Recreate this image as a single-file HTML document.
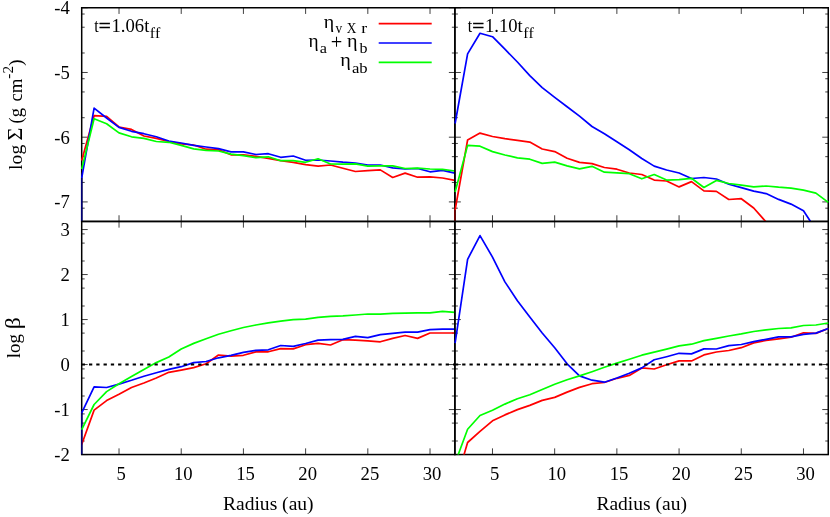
<!DOCTYPE html>
<html><head><meta charset="utf-8"><title>plot</title>
<style>
html,body{margin:0;padding:0;background:#fff;}
body{width:830px;height:517px;overflow:hidden;}
svg{display:block;will-change:transform;}
text{font-family:"Liberation Serif",serif;font-size:18.67px;fill:#000;font-kerning:none;font-variant-ligatures:none;}
.s{font-size:14.9px;}
.c{fill:none;stroke-width:1.7;stroke-linejoin:round;stroke-linecap:butt;}
.r{stroke:#ff0000;}.b{stroke:#0000ff;}.g{stroke:#00ff00;}
.ax{fill:none;stroke:#000;stroke-width:1.5;}
.tk{fill:none;stroke:#000;stroke-width:0.75;}
</style></head><body>
<svg width="830" height="517" viewBox="0 0 830 517">
<rect x="0" y="0" width="830" height="517" fill="#fff"/>
<defs>
<clipPath id="cTL"><rect x="80.7" y="7.8" width="375.2" height="213.7"/></clipPath>
<clipPath id="cTR"><rect x="453.9" y="7.8" width="375.4" height="213.7"/></clipPath>
<clipPath id="cBL"><rect x="80.7" y="221.4" width="375.2" height="233.1"/></clipPath>
<clipPath id="cBR"><rect x="453.9" y="221.4" width="375.4" height="233.1"/></clipPath>
</defs>
<!-- top-left -->
<rect class="ax" x="81.70" y="7.75" width="373.17" height="213.70"/>
<path class="tk" d="M119.02,221.45 v-6.2 M119.02,7.75 v6.2 M181.22,221.45 v-6.2 M181.22,7.75 v6.2 M243.42,221.45 v-6.2 M243.42,7.75 v6.2 M305.62,221.45 v-6.2 M305.62,7.75 v6.2 M367.82,221.45 v-6.2 M367.82,7.75 v6.2 M430.02,221.45 v-6.2 M430.02,7.75 v6.2 M81.70,7.75 h6 M454.87,7.75 h-6 M81.70,72.47 h6 M454.87,72.47 h-6 M81.70,137.19 h6 M454.87,137.19 h-6 M81.70,201.91 h6 M454.87,201.91 h-6 M81.70,52.99 h3 M454.87,52.99 h-3 M81.70,27.23 h3 M454.87,27.23 h-3 M81.70,14.02 h3 M454.87,14.02 h-3 M81.70,117.71 h3 M454.87,117.71 h-3 M81.70,91.95 h3 M454.87,91.95 h-3 M81.70,78.74 h3 M454.87,78.74 h-3 M81.70,182.43 h3 M454.87,182.43 h-3 M81.70,156.67 h3 M454.87,156.67 h-3 M81.70,143.46 h3 M454.87,143.46 h-3 M81.70,208.18 h3 M454.87,208.18 h-3"/>
<g clip-path="url(#cTL)">
<path class="c r" d="M81.7,160.5 L94.1,115.7 L106.6,116.4 L119.0,127.0 L131.5,129.4 L143.9,136.0 L156.3,138.4 L168.8,141.5 L181.2,143.9 L193.7,145.0 L206.1,149.2 L218.5,149.8 L231.0,154.8 L243.4,154.8 L255.9,156.3 L268.3,158.4 L280.7,160.7 L293.2,162.3 L305.6,164.6 L318.1,166.2 L330.5,165.0 L342.9,168.2 L355.4,171.5 L367.8,170.7 L380.3,169.9 L392.7,177.5 L405.1,173.1 L417.6,177.2 L430.0,176.8 L442.5,178.0 L454.9,180.4"/>
<path class="c b" d="M81.7,178.0 L94.1,108.1 L106.6,118.0 L119.0,127.4 L131.5,131.3 L143.9,133.7 L156.3,136.8 L168.8,141.0 L181.2,143.0 L193.7,145.4 L206.1,147.0 L218.5,148.7 L231.0,151.8 L243.4,151.8 L255.9,154.5 L268.3,153.7 L280.7,157.3 L293.2,156.0 L305.6,160.3 L318.1,160.0 L330.5,161.0 L342.9,162.2 L355.4,163.0 L367.8,165.0 L380.3,165.0 L392.7,167.9 L405.1,169.0 L417.6,168.5 L430.0,171.8 L442.5,170.3 L454.9,173.1"/>
<path d="M81.70,178.0 V221.4" stroke="#000078" stroke-width="1.7" fill="none"/>
<path class="c g" d="M81.7,169.0 L94.1,118.8 L106.6,123.8 L119.0,132.9 L131.5,136.8 L143.9,138.4 L156.3,141.5 L168.8,142.3 L181.2,145.4 L193.7,148.9 L206.1,150.3 L218.5,151.0 L231.0,154.1 L243.4,155.7 L255.9,157.6 L268.3,156.8 L280.7,160.7 L293.2,160.7 L305.6,162.3 L318.1,158.8 L330.5,164.0 L342.9,164.2 L355.4,163.8 L367.8,166.1 L380.3,165.8 L392.7,165.8 L405.1,168.5 L417.6,168.2 L430.0,169.0 L442.5,169.4 L454.9,171.0"/>
</g>
<!-- top-right -->
<rect class="ax" x="454.87" y="7.75" width="373.38" height="213.70"/>
<path class="tk" d="M492.47,221.45 v-6.2 M492.47,7.75 v6.2 M554.67,221.45 v-6.2 M554.67,7.75 v6.2 M616.87,221.45 v-6.2 M616.87,7.75 v6.2 M679.07,221.45 v-6.2 M679.07,7.75 v6.2 M741.27,221.45 v-6.2 M741.27,7.75 v6.2 M803.47,221.45 v-6.2 M803.47,7.75 v6.2 M454.87,7.75 h6 M828.25,7.75 h-6 M454.87,72.47 h6 M828.25,72.47 h-6 M454.87,137.19 h6 M828.25,137.19 h-6 M454.87,201.91 h6 M828.25,201.91 h-6 M454.87,52.99 h3 M828.25,52.99 h-3 M454.87,27.23 h3 M828.25,27.23 h-3 M454.87,14.02 h3 M828.25,14.02 h-3 M454.87,117.71 h3 M828.25,117.71 h-3 M454.87,91.95 h3 M828.25,91.95 h-3 M454.87,78.74 h3 M828.25,78.74 h-3 M454.87,182.43 h3 M828.25,182.43 h-3 M454.87,156.67 h3 M828.25,156.67 h-3 M454.87,143.46 h3 M828.25,143.46 h-3 M454.87,208.18 h3 M828.25,208.18 h-3"/>
<g clip-path="url(#cTR)">
<path class="c r" d="M455.1,210.0 L467.6,140.0 L480.0,133.1 L492.5,136.5 L504.9,138.7 L517.4,140.4 L529.8,142.1 L542.2,149.0 L554.7,151.6 L567.1,158.3 L579.5,162.4 L592.0,163.6 L604.4,167.5 L616.9,169.2 L629.3,173.0 L641.8,174.5 L654.2,180.1 L666.6,181.0 L679.1,186.9 L691.5,181.6 L703.9,190.9 L716.4,191.4 L728.8,199.5 L741.3,198.7 L753.7,208.0 L766.1,222.0 L778.6,235.0 L791.0,245.0 L803.5,255.0 L815.9,265.0 L828.3,275.0"/>
<path d="M454.87,210.0 V221.4" stroke="#780000" stroke-width="1.7" fill="none"/>
<path class="c b" d="M455.1,123.5 L467.6,53.9 L480.0,33.3 L492.5,36.7 L504.9,49.2 L517.4,62.0 L529.8,75.6 L542.2,87.6 L554.7,97.4 L567.1,106.7 L579.5,116.2 L592.0,126.5 L604.4,133.7 L616.9,141.8 L629.3,149.8 L641.8,158.5 L654.2,166.1 L666.6,170.0 L679.1,173.0 L691.5,178.5 L703.9,177.5 L716.4,179.0 L728.8,184.2 L741.3,187.6 L753.7,191.1 L766.1,193.6 L778.6,199.4 L791.0,204.1 L803.5,210.8 L815.9,229.7 L828.3,245.0"/>
<path class="c g" d="M455.1,192.0 L467.6,145.4 L480.0,146.2 L492.5,151.6 L504.9,155.0 L517.4,157.8 L529.8,159.2 L542.2,163.4 L554.7,162.1 L567.1,165.9 L579.5,168.9 L592.0,166.3 L604.4,172.2 L616.9,172.9 L629.3,173.7 L641.8,178.8 L654.2,174.5 L666.6,180.1 L679.1,179.6 L691.5,178.3 L703.9,187.5 L716.4,180.4 L728.8,183.5 L741.3,185.2 L753.7,186.9 L766.1,186.0 L778.6,187.2 L791.0,188.1 L803.5,190.1 L815.9,193.1 L828.3,202.4"/>
</g>
<!-- bottom-left -->
<rect class="ax" x="81.70" y="221.45" width="373.17" height="233.10"/>
<path class="tk" d="M119.02,454.55 v-6.2 M119.02,221.45 v6.2 M181.22,454.55 v-6.2 M181.22,221.45 v6.2 M243.42,454.55 v-6.2 M243.42,221.45 v6.2 M305.62,454.55 v-6.2 M305.62,221.45 v6.2 M367.82,454.55 v-6.2 M367.82,221.45 v6.2 M430.02,454.55 v-6.2 M430.02,221.45 v6.2 M81.70,454.55 h6 M454.87,454.55 h-6 M81.70,409.55 h6 M454.87,409.55 h-6 M81.70,364.55 h6 M454.87,364.55 h-6 M81.70,319.55 h6 M454.87,319.55 h-6 M81.70,274.55 h6 M454.87,274.55 h-6 M81.70,229.55 h6 M454.87,229.55 h-6 M81.70,441.00 h3 M454.87,441.00 h-3 M81.70,423.10 h3 M454.87,423.10 h-3 M81.70,413.91 h3 M454.87,413.91 h-3 M81.70,396.00 h3 M454.87,396.00 h-3 M81.70,378.10 h3 M454.87,378.10 h-3 M81.70,368.91 h3 M454.87,368.91 h-3 M81.70,351.00 h3 M454.87,351.00 h-3 M81.70,333.10 h3 M454.87,333.10 h-3 M81.70,323.91 h3 M454.87,323.91 h-3 M81.70,306.00 h3 M454.87,306.00 h-3 M81.70,288.10 h3 M454.87,288.10 h-3 M81.70,278.91 h3 M454.87,278.91 h-3 M81.70,261.00 h3 M454.87,261.00 h-3 M81.70,243.10 h3 M454.87,243.10 h-3 M81.70,233.91 h3 M454.87,233.91 h-3"/>
<g clip-path="url(#cBL)">
<path class="c r" d="M81.7,444.5 L94.1,410.1 L106.6,400.6 L119.0,394.3 L131.5,387.5 L143.9,383.0 L156.3,378.0 L168.8,372.3 L181.2,370.1 L193.7,367.6 L206.1,363.8 L218.5,355.0 L231.0,356.2 L243.4,355.3 L255.9,351.9 L268.3,351.8 L280.7,348.6 L293.2,348.9 L305.6,344.7 L318.1,343.3 L330.5,345.0 L342.9,339.7 L355.4,340.1 L367.8,340.9 L380.3,341.8 L392.7,338.4 L405.1,335.5 L417.6,338.4 L430.0,333.0 L442.5,333.0 L454.9,333.0"/>
<path class="c b" d="M81.7,412.8 L94.1,386.8 L106.6,387.5 L119.0,384.1 L131.5,380.3 L143.9,376.2 L156.3,372.8 L168.8,369.4 L181.2,366.7 L193.7,362.6 L206.1,361.5 L218.5,357.8 L231.0,355.3 L243.4,352.3 L255.9,350.3 L268.3,349.8 L280.7,345.5 L293.2,346.4 L305.6,343.5 L318.1,340.1 L330.5,339.7 L342.9,339.4 L355.4,336.4 L367.8,337.7 L380.3,334.7 L392.7,333.3 L405.1,332.2 L417.6,332.2 L430.0,329.6 L442.5,329.1 L454.9,329.1"/>
<path d="M81.70,412.8 V454.6" stroke="#000078" stroke-width="1.7" fill="none"/>
<path class="c g" d="M81.7,429.7 L94.1,404.5 L106.6,391.6 L119.0,383.7 L131.5,376.6 L143.9,369.4 L156.3,362.6 L168.8,357.0 L181.2,349.0 L193.7,343.4 L206.1,338.8 L218.5,334.2 L231.0,330.7 L243.4,327.5 L255.9,325.0 L268.3,322.8 L280.7,321.1 L293.2,319.7 L305.6,319.1 L318.1,317.4 L330.5,316.3 L342.9,315.8 L355.4,315.0 L367.8,314.0 L380.3,314.1 L392.7,313.3 L405.1,313.1 L417.6,312.8 L430.0,312.8 L442.5,311.4 L454.9,312.4"/>
<path d="M81.7,364.6 H454.9" stroke="#000" stroke-width="2" stroke-dasharray="3.3 3.98" fill="none"/>
</g>
<!-- bottom-right -->
<rect class="ax" x="454.87" y="221.45" width="373.38" height="233.10"/>
<path class="tk" d="M492.47,454.55 v-6.2 M492.47,221.45 v6.2 M554.67,454.55 v-6.2 M554.67,221.45 v6.2 M616.87,454.55 v-6.2 M616.87,221.45 v6.2 M679.07,454.55 v-6.2 M679.07,221.45 v6.2 M741.27,454.55 v-6.2 M741.27,221.45 v6.2 M803.47,454.55 v-6.2 M803.47,221.45 v6.2 M454.87,454.55 h6 M828.25,454.55 h-6 M454.87,409.55 h6 M828.25,409.55 h-6 M454.87,364.55 h6 M828.25,364.55 h-6 M454.87,319.55 h6 M828.25,319.55 h-6 M454.87,274.55 h6 M828.25,274.55 h-6 M454.87,229.55 h6 M828.25,229.55 h-6 M454.87,441.00 h3 M828.25,441.00 h-3 M454.87,423.10 h3 M828.25,423.10 h-3 M454.87,413.91 h3 M828.25,413.91 h-3 M454.87,396.00 h3 M828.25,396.00 h-3 M454.87,378.10 h3 M828.25,378.10 h-3 M454.87,368.91 h3 M828.25,368.91 h-3 M454.87,351.00 h3 M828.25,351.00 h-3 M454.87,333.10 h3 M828.25,333.10 h-3 M454.87,323.91 h3 M828.25,323.91 h-3 M454.87,306.00 h3 M828.25,306.00 h-3 M454.87,288.10 h3 M828.25,288.10 h-3 M454.87,278.91 h3 M828.25,278.91 h-3 M454.87,261.00 h3 M828.25,261.00 h-3 M454.87,243.10 h3 M828.25,243.10 h-3 M454.87,233.91 h3 M828.25,233.91 h-3"/>
<g clip-path="url(#cBR)">
<path class="c r" d="M455.1,485.0 L467.6,442.5 L480.0,431.4 L492.5,420.8 L504.9,414.9 L517.4,409.6 L529.8,405.4 L542.2,400.4 L554.7,397.4 L567.1,392.1 L579.5,387.4 L592.0,383.7 L604.4,382.5 L616.9,378.3 L629.3,375.4 L641.8,367.9 L654.2,369.0 L666.6,364.8 L679.1,360.9 L691.5,360.9 L703.9,354.9 L716.4,352.0 L728.8,350.5 L741.3,347.7 L753.7,342.9 L766.1,340.4 L778.6,338.8 L791.0,337.2 L803.5,332.8 L815.9,333.4 L828.3,328.5"/>
<path class="c b" d="M455.1,343.2 L467.6,259.3 L480.0,235.6 L492.5,257.1 L504.9,281.9 L517.4,300.7 L529.8,317.0 L542.2,333.0 L554.7,347.8 L567.1,363.8 L579.5,375.9 L592.0,380.2 L604.4,382.2 L616.9,378.0 L629.3,373.2 L641.8,367.9 L654.2,359.8 L666.6,356.7 L679.1,353.3 L691.5,353.9 L703.9,348.9 L716.4,349.0 L728.8,345.6 L741.3,344.5 L753.7,341.6 L766.1,339.3 L778.6,336.8 L791.0,336.8 L803.5,334.4 L815.9,333.1 L828.3,328.5"/>
<path class="c g" d="M455.1,463.0 L467.6,429.3 L480.0,415.5 L492.5,410.2 L504.9,404.1 L517.4,398.8 L529.8,394.8 L542.2,389.5 L554.7,384.2 L567.1,379.7 L579.5,375.9 L592.0,371.7 L604.4,367.3 L616.9,363.1 L629.3,359.2 L641.8,355.2 L654.2,352.2 L666.6,349.1 L679.1,345.9 L691.5,344.2 L703.9,340.6 L716.4,338.3 L728.8,336.0 L741.3,333.9 L753.7,331.5 L766.1,329.9 L778.6,328.5 L791.0,327.9 L803.5,325.5 L815.9,325.0 L828.3,323.0"/>
<path d="M454.9,364.6 H828.2" stroke="#000" stroke-width="2" stroke-dasharray="3.3 3.98" fill="none"/>
</g>
<!-- tick labels -->
<g text-anchor="end">
<text x="69.8" y="14.2">-4</text>
<text x="69.8" y="79.0">-5</text>
<text x="69.8" y="143.7">-6</text>
<text x="69.8" y="208.4">-7</text>
<text x="69.8" y="236.1">3</text>
<text x="69.8" y="281.1">2</text>
<text x="69.8" y="326.1">1</text>
<text x="69.8" y="371.1">0</text>
<text x="69.8" y="416.1">-1</text>
<text x="69.8" y="461.1">-2</text>
</g>
<g text-anchor="middle">
<text x="121.1" y="480.3">5</text>
<text x="183.3" y="480.3">10</text>
<text x="245.5" y="480.3">15</text>
<text x="307.7" y="480.3">20</text>
<text x="369.9" y="480.3">25</text>
<text x="432.1" y="480.3">30</text>
<text x="494.6" y="480.3">5</text>
<text x="556.8" y="480.3">10</text>
<text x="619.0" y="480.3">15</text>
<text x="681.2" y="480.3">20</text>
<text x="743.4" y="480.3">25</text>
<text x="805.6" y="480.3">30</text>
</g>
<text transform="translate(222.94,509.50) scale(1.0478,0.9850)" style="font-size:18.67px">Radius (au)</text>
<text transform="translate(596.39,509.50) scale(1.0478,0.9850)" style="font-size:18.67px">Radius (au)</text>
<text transform="translate(22.00,169.89) rotate(-90) scale(1.0550,1.0000)" style="font-size:18.67px">log</text>
<text transform="translate(22.00,140.46) rotate(-90) scale(1.1850,1.1000)" style="font-size:18.67px">Σ</text>
<text transform="translate(22.00,123.42) rotate(-90) scale(0.9947,1.0000)" style="font-size:18.67px">(g</text>
<text transform="translate(22.00,101.52) rotate(-90) scale(1.0089,1.0000)" style="font-size:18.67px">cm</text>
<text transform="translate(12.60,78.67) rotate(-90) scale(1.0239,1.0000)" style="font-size:14.90px">-2</text>
<text transform="translate(22.00,66.05) rotate(-90) scale(1.0844,1.0000)" style="font-size:18.67px">)</text>
<text transform="translate(20.10,358.18) rotate(-90) scale(1.0118,1.0000)" style="font-size:18.67px">log</text>
<text transform="translate(20.10,329.14) rotate(-90) scale(1.2795,1.1000)" style="font-size:18.67px">β</text>
<text transform="translate(467.74,32.10) scale(0.8579,1.0000)" style="font-size:18.67px">t</text>
<text transform="translate(472.24,32.10) scale(1.1395,1.0000)" style="stroke:#000;stroke-width:0.45px;font-size:18.67px">=</text>
<text transform="translate(484.96,32.10) scale(0.9997,1.0000)" style="font-size:18.67px">1.10t</text>
<text transform="translate(523.21,37.50) scale(1.0671,1.0000)" style="font-size:14.90px">ff</text>
<text transform="translate(94.29,32.10) scale(0.8579,1.0000)" style="font-size:18.67px">t</text>
<text transform="translate(98.79,32.10) scale(1.1395,1.0000)" style="stroke:#000;stroke-width:0.45px;font-size:18.67px">=</text>
<text transform="translate(111.51,32.10) scale(0.9997,1.0000)" style="font-size:18.67px">1.06t</text>
<text transform="translate(149.76,37.50) scale(1.0671,1.0000)" style="font-size:14.90px">ff</text>
<text transform="translate(323.79,27.60) scale(1.0711,1.0400)" style="font-size:18.67px">η</text>
<text transform="translate(335.50,33.30) scale(0.8993,1.0000)" style="font-size:14.90px">v</text>
<text transform="translate(346.81,33.30) scale(0.8953,1.0000)" style="font-size:14.90px">X</text>
<text transform="translate(361.24,33.30) scale(1.1914,1.0000)" style="font-size:14.90px">r</text>
<text transform="translate(308.50,46.80) scale(1.0357,1.0400)" style="font-size:18.67px">η</text>
<text transform="translate(319.73,53.30) scale(1.0874,1.0000)" style="font-size:14.90px">a</text>
<text transform="translate(330.78,49.20) scale(1.0935,1.0900)" style="font-size:18.67px">+</text>
<text transform="translate(347.08,46.80) scale(1.0828,1.0400)" style="font-size:18.67px">η</text>
<text transform="translate(359.60,53.30) scale(1.0752,1.0000)" style="font-size:14.90px">b</text>
<text transform="translate(340.28,66.20) scale(1.0828,1.0400)" style="font-size:18.67px">η</text>
<text transform="translate(351.91,72.50) scale(1.1178,1.0000)" style="font-size:14.90px">ab</text>
<path class="c r" d="M378.7,23.7 H431.7"/>
<path class="c b" d="M378.7,43 H431.7"/>
<path class="c g" d="M378.7,62.3 H431.7"/>
</svg></body></html>
